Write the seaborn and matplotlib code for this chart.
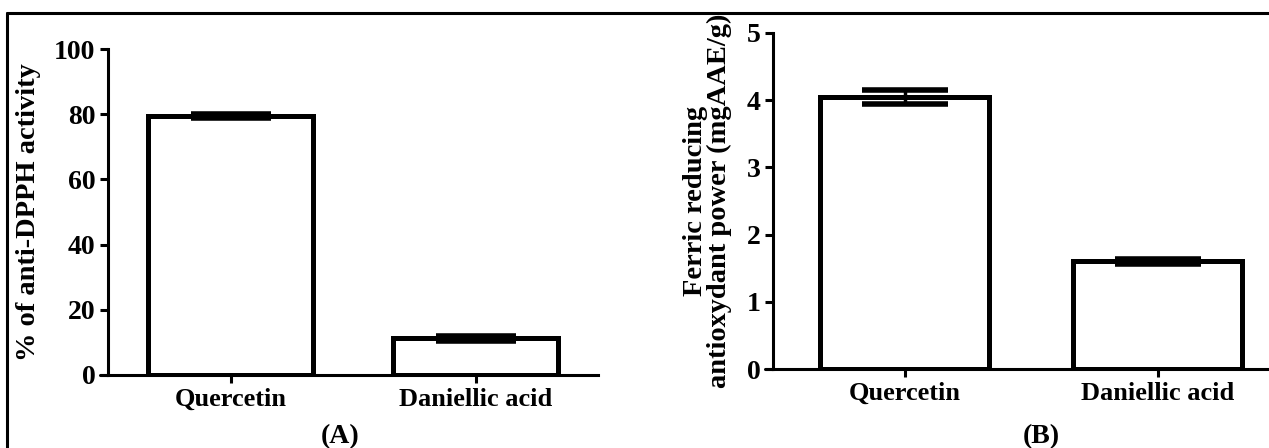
import matplotlib
matplotlib.use("Agg")
import matplotlib.pyplot as plt
import seaborn as sns
import pandas as pd
from matplotlib.lines import Line2D

# data
compounds = ["Quercetin", "Daniellic acid"]
dpph_mean = [79.5, 11.3]
dpph_err = [0.7, 0.8]
frap_mean = [4.05, 1.60]
frap_err = [0.10, 0.04]

sns.set_style("ticks")
plt.rcParams["font.family"] = ["Liberation Serif", "DejaVu Serif"]
plt.rcParams["font.weight"] = "bold"
plt.rcParams["text.color"] = "black"
plt.rcParams["axes.labelcolor"] = "black"
plt.rcParams["xtick.color"] = "black"
plt.rcParams["ytick.color"] = "black"

fig = plt.figure(figsize=(12.69, 4.48), dpi=100)

# outer frame (top + left only, the rest is cut off)
fig.add_artist(Line2D([7 / 1269, 1.0], [1 - 13 / 448, 1 - 13 / 448], color="black", lw=2.2, transform=fig.transFigure))
fig.add_artist(Line2D([7 / 1269, 7 / 1269], [0.0, 1 - 13 / 448], color="black", lw=2.2, transform=fig.transFigure))


def draw_panel(ax, means, errs, ylabel, ylim, yticks, xlim, capsize):
    df = pd.DataFrame({"compound": compounds, "value": means})
    sns.barplot(data=df, x="compound", y="value", ax=ax, color="white",
                edgecolor="black", linewidth=3.6, width=0.67, errorbar=None)
    eb = ax.errorbar(range(len(compounds)), means, yerr=errs, fmt="none", ecolor="black",
                     elinewidth=2.5, capsize=capsize, capthick=4, zorder=5)
    for cap in eb[1]:
        cap.set_solid_capstyle("round")
    ax.set_ylim(*ylim)
    ax.set_xlim(*xlim)
    ax.set_yticks(yticks)
    ax.set_xlabel("")
    ax.set_ylabel(ylabel, fontsize=20.5, fontweight="bold", linespacing=0.95)
    for side in ["top", "right"]:
        ax.spines[side].set_visible(False)
    for side in ["left", "bottom"]:
        ax.spines[side].set_linewidth(2.2)
        ax.spines[side].set_color("black")
    ax.tick_params(axis="both", width=2.2, length=6, color="black")
    ax.tick_params(axis="y", labelsize=20, pad=3)
    ax.tick_params(axis="x", labelsize=19, pad=3)
    for lbl in ax.get_xticklabels() + ax.get_yticklabels():
        lbl.set_fontweight("bold")
    # x axis line continues left under the y ticks
    ax.plot([-0.017, 0], [0, 0], transform=ax.transAxes, color="black", lw=2.2, clip_on=False)


ax_a = fig.add_axes([108 / 1269, 1 - 375 / 448, 490 / 1269, 326 / 448])
draw_panel(ax_a, dpph_mean, dpph_err, "% of anti-DPPH activity", (0, 100),
           [0, 20, 40, 60, 80, 100], (-0.5, 1.5), 29)
ax_a.yaxis.set_label_coords(-0.137, 0.5)
ax_a.text(0.473, -0.19, "(A)", transform=ax_a.transAxes, ha="center", va="center",
          fontsize=20, fontweight="bold")

ax_b = fig.add_axes([773 / 1269, 1 - 369 / 448, 496 / 1269, 336 / 448])
draw_panel(ax_b, frap_mean, frap_err, "Ferric reducing\nantioxydant power (mgAAE/g)", (0, 5),
           [0, 1, 2, 3, 4, 5], (-0.52, 1.44), 31)
ax_b.yaxis.set_label_coords(-0.083, 0.5)
ax_b.text(0.54, -0.2, "(B)", transform=ax_b.transAxes, ha="center", va="center",
          fontsize=20, fontweight="bold")

fig.savefig("out.png", dpi=100, facecolor="white")
